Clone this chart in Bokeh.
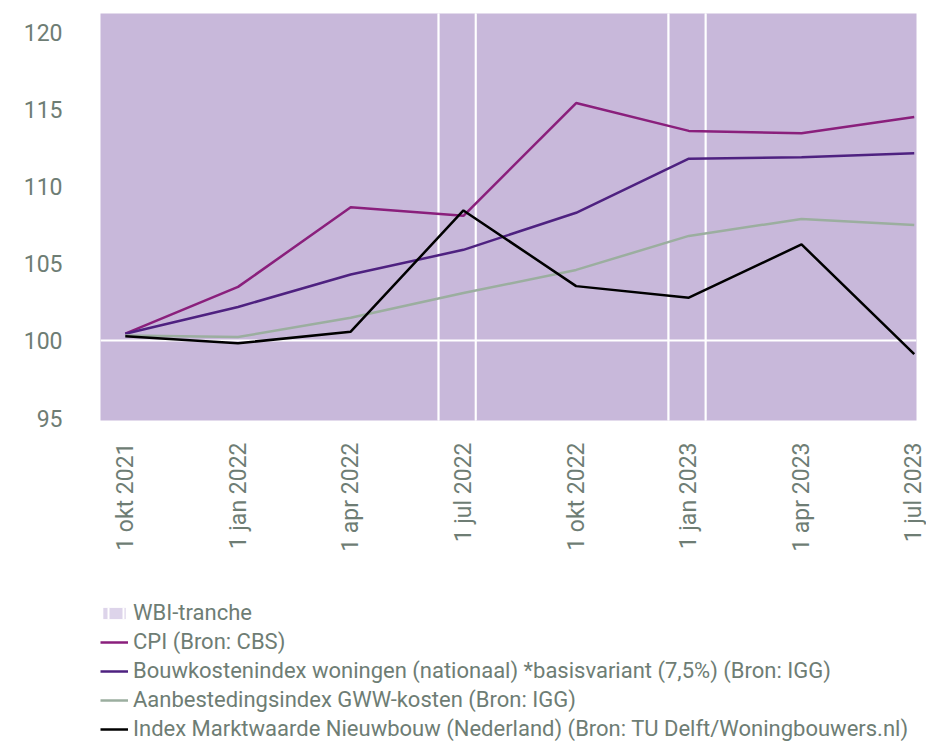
from bokeh.plotting import figure
from bokeh.layouts import column
from bokeh.models import Range1d, FixedTicker, Legend, LegendItem
from bokeh.embed import file_html
from bokeh.resources import INLINE
import math

quarters = ["1 okt 2021", "1 jan 2022", "1 apr 2022", "1 jul 2022",
            "1 okt 2022", "1 jan 2023", "1 apr 2023", "1 jul 2023"]
cpi = [100.47, 103.5, 108.65, 108.1, 115.4, 113.6, 113.45, 114.5]
bouwkosten = [100.47, 102.2, 104.3, 105.9, 108.3, 111.8, 111.9, 112.15]
gww = [100.36, 100.25, 101.5, 103.1, 104.6, 106.8, 107.9, 107.5]
marktwaarde = [100.3, 99.85, 100.6, 108.45, 103.55, 102.8, 106.25, 99.15]

# WBI tranches, in quarter units from 1 okt 2021
tranche_left = [-0.5, 2.78, 3.11, 4.82, 5.15]
tranche_right = [2.78, 3.11, 4.82, 5.15, 7.5]

y_ticks = [95, 100, 105, 110, 115, 120]

series = [
    ("CPI (Bron: CBS)", cpi, "#8A1F7C"),
    ("Bouwkostenindex woningen (nationaal) *basisvariant (7,5%) (Bron: IGG)", bouwkosten, "#4E2180"),
    ("Aanbestedingsindex GWW-kosten (Bron: IGG)", gww, "#9BAE9F"),
    ("Index Marktwaarde Nieuwbouw (Nederland) (Bron: TU Delft/Woningbouwers.nl)", marktwaarde, "#000000"),
]

TEXT = "#6E7D74"
FONT = "Roboto"
BAND = "#C8B8DA"

x = list(range(len(quarters)))

p = figure(width=926, height=595,
           x_range=Range1d(-0.22, 7.02), y_range=Range1d(94.85, 121.2),
           output_backend="svg", toolbar_location=None,
           min_border_left=100, min_border_top=13, min_border_right=10,
           min_border_bottom=175)
p.outline_line_color = None
p.grid.visible = False

p.quad(left=tranche_left, right=tranche_right, bottom=90, top=125,
       fill_color=BAND, line_color="white", line_width=2)
p.hspan(y=[100], line_color="white", line_width=2)

for label, vals, color in series:
    p.line(x, vals, line_color=color, line_width=2.5)

p.yaxis.ticker = FixedTicker(ticks=y_ticks)
p.yaxis.axis_line_color = None
p.yaxis.major_tick_line_color = None
p.yaxis.minor_tick_line_color = None
p.yaxis.major_label_text_font = FONT
p.yaxis.major_label_text_font_size = "23px"
p.yaxis.major_label_text_color = TEXT
p.yaxis.major_label_standoff = 32

p.xaxis.ticker = FixedTicker(ticks=x)
p.xaxis.major_label_overrides = {i: q for i, q in enumerate(quarters)}
p.xaxis.major_label_orientation = math.pi / 2
p.xaxis.axis_line_color = None
p.xaxis.major_tick_line_color = None
p.xaxis.minor_tick_line_color = None
p.xaxis.major_label_text_font = FONT
p.xaxis.major_label_text_font_size = "23px"
p.xaxis.major_label_text_color = TEXT
p.xaxis.major_label_standoff = 16

# legend figure (its renderers lie outside its ranges; only the legend swatches show)
lg = figure(width=926, height=146, x_range=Range1d(50, 51), y_range=Range1d(50, 51),
            output_backend="svg", toolbar_location=None,
            min_border=0, x_axis_location=None, y_axis_location=None)
lg.outline_line_color = None
lg.grid.visible = False

items = [LegendItem(label="WBI-tranche",
                    renderers=[lg.quad(left=tranche_left, right=tranche_right,
                                       bottom=90, top=125, fill_color="#DDD4EA",
                                       line_color=None, hatch_pattern="vertical_line",
                                       hatch_color="white", hatch_weight=2,
                                       hatch_scale=15)])]
for label, vals, color in series:
    items.append(LegendItem(label=label,
                            renderers=[lg.line(x, vals, line_color=color, line_width=2.5)]))

legend = Legend(items=items, location=(0, 0), orientation="vertical")
legend.label_text_font = FONT
legend.label_text_font_size = "22px"
legend.label_text_color = TEXT
legend.glyph_width = 28
legend.glyph_height = 14
legend.label_height = 22
legend.spacing = 4
legend.label_standoff = 5
legend.padding = 0
legend.margin = 0
legend.border_line_color = None
legend.background_fill_alpha = 0
legend.inactive_fill_alpha = 0
lg.add_layout(legend, "center")

layout = column(p, lg, spacing=0)
open("out.html", "w").write(file_html(layout, INLINE))
